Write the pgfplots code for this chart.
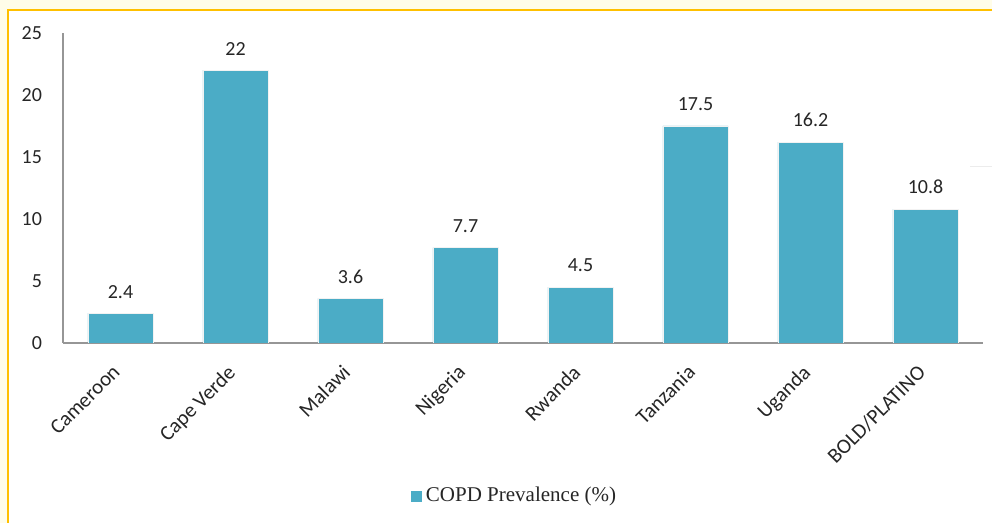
\documentclass[border=0pt]{standalone}
\usepackage{fontspec}
\setmainfont{Carlito}
\newfontfamily\legfont{Liberation Serif}
\usepackage{pgfplots}
\pgfplotsset{compat=1.18}
\definecolor{barc}{HTML}{4BACC6}
\definecolor{cream}{HTML}{FFFDE9}
\definecolor{gold}{HTML}{FFC000}
\definecolor{axgray}{HTML}{969696}
\definecolor{txt}{HTML}{262626}
\begin{document}
\begin{tikzpicture}
\useasboundingbox (0,0) rectangle (496pt,261.5pt);
\fill[cream] (0,0) rectangle (496pt,261.5pt);
\filldraw[fill=white, draw=gold, line width=1pt] (4pt,-10pt) rectangle (520pt,256.5pt);
\draw[gray!15, line width=0.5pt] (485pt,178pt) -- (496pt,178pt);
\begin{axis}[
  at={(31.5pt,90pt)}, anchor=south west,
  scale only axis, width=460pt, height=155pt,
  xmin=-0.5, xmax=7.5, ymin=0, ymax=25,
  /pgf/number format/assume math mode=true,
  axis x line*=bottom, axis y line*=left,
  axis line style={-, draw=axgray, line width=0.9pt},
  ybar, bar width=32.5pt, bar shift=0pt,
  xtick={0,...,7},
  xticklabels={Cameroon,Cape Verde,Malawi,Nigeria,Rwanda,Tanzania,Uganda,BOLD/PLATINO},
  xticklabel style={rotate=45, anchor=north east, font=\fontsize{10.5}{12}\selectfont, text=txt, yshift=-0.5pt, xshift=-7pt},
  ytick={0,5,...,25},
  yticklabel style={font=\fontsize{10}{12}\selectfont, text=txt, xshift=-7pt},
  major tick length=0pt,
  tick style={draw=none},
  nodes near coords,
  every node near coord/.append style={font=\fontsize{10}{12}\selectfont, text=txt, yshift=4pt},
  legend style={at={(0.492,-0.494)}, anchor=center, draw=none, fill=none,
    font=\legfont\fontsize{10.5}{12}\selectfont, text=txt},
  legend image code/.code={\fill[barc] (0pt,-2.5pt) rectangle (5pt,2.5pt);},
]
\addplot[fill=barc, draw=white!90!gray, line width=0.4pt] coordinates {
 (0,2.4) (1,22) (2,3.6) (3,7.7) (4,4.5) (5,17.5) (6,16.2) (7,10.8)};
\addlegendentry{COPD Prevalence (\%)}
\end{axis}
\end{tikzpicture}
\end{document}
